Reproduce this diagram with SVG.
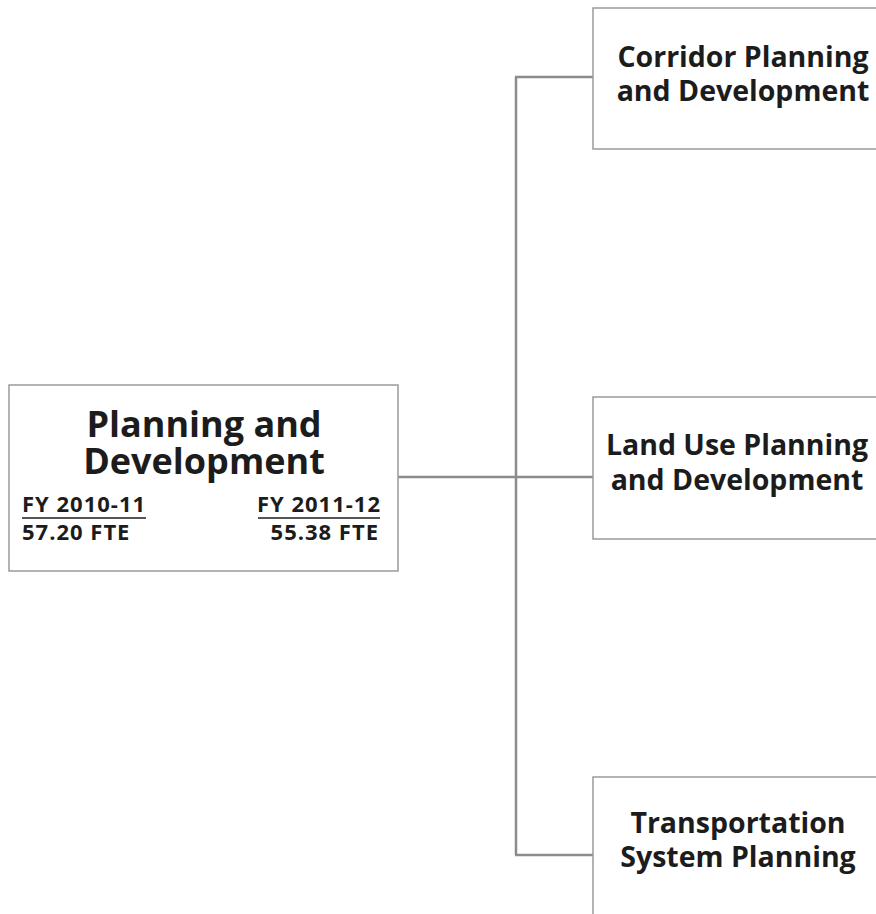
<svg xmlns="http://www.w3.org/2000/svg" width="876" height="914" viewBox="0 0 876 914">
  <style>
    .box { fill: #ffffff; stroke: #9a9a9a; stroke-width: 1.5; }
    .wire { fill: none; stroke: #8c8c8c; stroke-width: 2.5; }
    .t { font-family: "Open Sans", "Noto Sans", "Liberation Sans", sans-serif; font-weight: 700; fill: #1c1c1c; }
    .title { font-size: 36px; text-anchor: middle; }
    .sub { font-size: 28.5px; text-anchor: middle; }
    .fy { font-size: 22px; letter-spacing: 1px; }
    .ul { stroke: #1c1c1c; stroke-width: 1.5; }
  </style>
  <rect width="876" height="914" fill="#ffffff"/>

  <!-- connectors -->
  <g id="connectors">
    <line class="wire" x1="398" y1="477" x2="593" y2="477"/>
    <line class="wire" x1="516" y1="77" x2="516" y2="855"/>
    <line class="wire" x1="515" y1="77" x2="593" y2="77"/>
    <line class="wire" x1="515" y1="855" x2="593" y2="855"/>
  </g>

  <!-- root node -->
  <g id="planning-and-development">
    <rect class="box" x="9" y="385" width="389" height="186"/>
    <text class="t title"><tspan x="204" y="437">Planning and</tspan><tspan x="204" y="474">Development</tspan></text>
    <text class="t fy" x="22" y="512">FY 2010-11</text>
    <line class="ul" x1="22" y1="518" x2="146" y2="518"/>
    <text class="t fy" x="381" y="512" text-anchor="end">FY 2011-12</text>
    <line class="ul" x1="258" y1="518" x2="380" y2="518"/>
    <text class="t fy" x="22" y="540">57.20 FTE</text>
    <text class="t fy" x="379" y="540" text-anchor="end">55.38 FTE</text>
  </g>

  <!-- child nodes -->
  <g id="corridor-planning">
    <rect class="box" x="593" y="8" width="300" height="141"/>
    <text class="t sub"><tspan x="743" y="67">Corridor Planning</tspan><tspan x="743" y="101">and Development</tspan></text>
  </g>

  <g id="land-use-planning">
    <rect class="box" x="593" y="397" width="300" height="142"/>
    <text class="t sub"><tspan x="737" y="455">Land Use Planning</tspan><tspan x="737" y="490">and Development</tspan></text>
  </g>

  <g id="transportation-system-planning">
    <rect class="box" x="593" y="777" width="300" height="160"/>
    <text class="t sub"><tspan x="738" y="833">Transportation</tspan><tspan x="738" y="867">System Planning</tspan></text>
  </g>
</svg>
